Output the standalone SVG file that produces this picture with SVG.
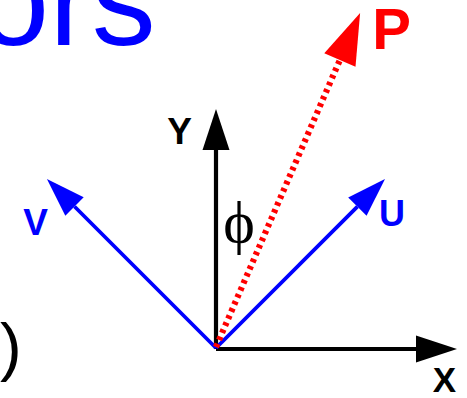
<svg xmlns="http://www.w3.org/2000/svg" width="467" height="398" viewBox="0 0 467 398">
<defs>
<style>
.bold{font-family:"Liberation Sans",Arial,sans-serif;font-weight:bold}
.ax{stroke:#000;stroke-width:4.2;fill:none}
.bl{stroke:#0000FF;stroke-width:3.8;fill:none}
.rd{stroke:#FF0000;stroke-width:6.2;stroke-dasharray:3.6 4.1;fill:none}
</style>
<marker id="hk" markerUnits="userSpaceOnUse" markerWidth="42" markerHeight="28" refX="0" refY="13.5" orient="auto" overflow="visible"><path d="M0,0 L41,13.5 L0,27 z" fill="#000"/></marker>
<marker id="hb" markerUnits="userSpaceOnUse" markerWidth="40" markerHeight="27" refX="0" refY="13" orient="auto" overflow="visible"><path d="M0,0 L39,13 L0,26 z" fill="#0000FF"/></marker>
<marker id="hr" markerUnits="userSpaceOnUse" markerWidth="52" markerHeight="35" refX="0" refY="17" orient="auto" overflow="visible"><path d="M0,0 L51,17 L0,34 z" fill="#FF0000"/></marker>
</defs>
<text x="-22" y="45" font-family="Liberation Sans, Arial, sans-serif" font-size="128" fill="#0000FF">ors</text>
<text x="0" y="369" font-family="Liberation Sans, Arial, sans-serif" font-size="65" fill="#000">)</text>
<g id="connectors">
<line class="ax" x1="216" y1="349" x2="416" y2="349" marker-end="url(#hk)"/>
<line class="ax" x1="216" y1="349" x2="216" y2="150" marker-end="url(#hk)"/>
<line class="bl" x1="216" y1="348" x2="74.5" y2="206.5" marker-end="url(#hb)"/>
<line class="bl" x1="216" y1="348" x2="357.4" y2="206.6" marker-end="url(#hb)"/>
<line class="rd" x1="216" y1="347" x2="339.9" y2="59.9" marker-end="url(#hr)"/>
</g>
<g id="X"><text class="bold" x="444.5" y="392" font-size="35" text-anchor="middle">X</text></g>
<g id="Y"><text class="bold" x="179.5" y="144" font-size="37" text-anchor="middle">Y</text></g>
<g id="V"><text class="bold" x="35.5" y="235" font-size="37" fill="#0000FF" text-anchor="middle">V</text></g>
<g id="U"><text class="bold" x="392" y="226" font-size="36" fill="#0000FF" text-anchor="middle">U</text></g>
<g id="P"><text class="bold" x="391.5" y="49" font-size="58" fill="#FF0000" text-anchor="middle">P</text></g>
<g id="phi"><text x="239" y="242" font-family="Liberation Serif, Times New Roman, serif" font-size="60" text-anchor="middle">ϕ</text></g>
</svg>
